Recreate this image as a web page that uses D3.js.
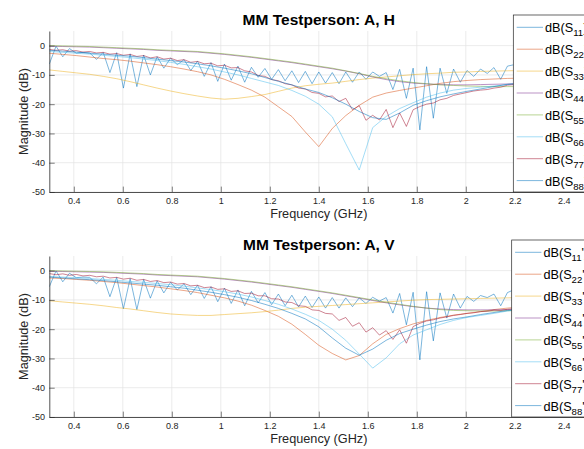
<!DOCTYPE html>
<html>
<head>
<meta charset="utf-8">
<title>MM Testperson</title>
<script src="https://d3js.org/d3.v7.min.js"></script>
<style>
    body { margin: 0; background: #fff; overflow: hidden; }
    svg { display: block; font-family: "Liberation Sans", Arial, Helvetica, sans-serif; }
</style>
</head>
<body>
<script>
// ****DATA****
// frequency sweeps (GHz): full sweep and every second point
const freqFine = [0.3, 0.3275, 0.355, 0.3825, 0.41, 0.4375, 0.465, 0.4925, 0.52, 0.5475,
    0.575, 0.6025, 0.63, 0.6575, 0.685, 0.7125, 0.74, 0.7675, 0.795, 0.8225,
    0.85, 0.8775, 0.905, 0.9325, 0.96, 0.9875, 1.015, 1.0425, 1.07, 1.0975,
    1.125, 1.1525, 1.18, 1.2075, 1.235, 1.2625, 1.29, 1.3175, 1.345, 1.3725,
    1.4, 1.4275, 1.455, 1.4825, 1.51, 1.5375, 1.565, 1.5925, 1.62, 1.6475,
    1.675, 1.7025, 1.73, 1.7575, 1.785, 1.8125, 1.84, 1.8675, 1.895, 1.9225,
    1.95, 1.9775, 2.005, 2.0325, 2.06, 2.0875, 2.115, 2.1425, 2.17, 2.1975,
    2.225, 2.2525, 2.28];
const freqCoarse = [0.3, 0.355, 0.41, 0.465, 0.52, 0.575, 0.63, 0.685, 0.74, 0.795,
    0.85, 0.905, 0.96, 1.015, 1.07, 1.125, 1.18, 1.235, 1.29, 1.345,
    1.4, 1.455, 1.51, 1.565, 1.62, 1.675, 1.73, 1.785, 1.84, 1.895,
    1.95, 2.005, 2.06, 2.115, 2.17, 2.225, 2.28];

const xTicks = [0.4, 0.6, 0.8, 1, 1.2, 1.4, 1.6, 1.8, 2, 2.2, 2.4];
const yTicks = [-50, -40, -30, -20, -10, 0];
const portNames = ['11', '22', '33', '44', '55', '66', '77', '88'];
const lineColors = ['#0072BD', '#D95319', '#EDB120', '#7E2F8E', '#77AC30', '#4DBEEE', '#A2142F', '#0072BD'];

// ---- A, H ----
const hS11 = [-6.3, -0.2, -3.8, -1.0, -2.6, -2.3, -2.5, -4.7, -2.3, -9.2,
    -2.4, -14.5, -2.8, -14.0, -3.2, -10.0, -3.8, -7.7, -4.3, -6.5,
    -4.8, -8.5, -5.3, -10.5, -5.8, -12.2, -6.3, -11.8, -7.0, -12.5,
    -7.4, -10.8, -7.8, -11.5, -8.2, -12.0, -8.6, -12.6, -8.8, -13.0,
    -9.0, -12.8, -9.2, -13.0, -9.0, -12.5, -9.0, -11.5, -9.0, -10.5,
    -9.2, -15.0, -8.1, -18.0, -7.7, -28.8, -7.2, -24.8, -7.7, -16.3,
    -8.0, -12.5, -8.5, -10.5, -8.0, -9.5, -7.5, -11.5, -7.0, -6.5,
    -7.0, -8.0, -7.5];
const hS22 = [-2.6, -3.0, -3.4, -3.9, -4.4, -4.8, -5.3, -5.9, -6.5, -7.2,
    -8.0, -8.9, -10.0, -11.5, -13.3, -15.2, -17.6, -20.9, -24.2, -29.5,
    -34.5, -28.3, -23.9, -20.4, -17.6, -16.2, -15.3, -14.5, -13.7, -12.9,
    -12.3, -11.9, -11.6, -11.4, -11.2, -11.1, -11.0];
const hS33 = [-8.3, -8.8, -9.3, -9.8, -10.5, -11.3, -12.3, -13.4, -14.5, -15.5,
    -16.4, -17.2, -17.9, -18.3, -18.0, -17.4, -16.7, -15.6, -14.5, -13.7,
    -13.2, -12.8, -12.2, -11.6, -11.1, -10.7, -10.3, -9.9, -9.6, -9.4,
    -9.1, -9.0, -8.8, -8.7, -8.6, -8.5, -8.5];
const hS44 = [-0.2, -0.3, -0.4, -0.5, -0.7, -0.9, -1.1, -1.3, -1.6, -1.8,
    -2.0, -2.2, -2.6, -3.0, -3.5, -4.0, -4.6, -5.2, -5.8, -6.5,
    -7.2, -7.9, -8.7, -9.6, -10.7, -11.6, -12.3, -12.8, -13.1, -13.3,
    -13.4, -13.4, -13.3, -13.2, -13.1, -13.0, -13.0];
const hS55 = [0.0, -0.1, -0.2, -0.3, -0.5, -0.7, -0.9, -1.1, -1.4, -1.6,
    -1.8, -2.0, -2.4, -2.8, -3.3, -3.8, -4.4, -5.0, -5.6, -6.3,
    -7.0, -7.7, -8.6, -9.5, -10.5, -11.3, -12.0, -12.6, -13.0, -13.4,
    -13.6, -13.8, -13.9, -14.0, -14.0, -14.0, -14.0];
const hS66 = [-2.0, -2.3, -2.6, -2.9, -3.3, -3.7, -4.1, -4.6, -5.1, -5.7,
    -6.4, -7.2, -8.0, -9.0, -10.0, -11.2, -12.4, -13.6, -15.3, -17.3,
    -20.0, -24.3, -33.5, -42.5, -28.0, -24.2, -21.5, -19.5, -17.6, -16.2,
    -15.2, -14.6, -14.2, -13.8, -13.3, -13.0, -12.8];
const hS77 = [-1.3, -1.6, -1.4, -1.9, -1.7, -2.2, -2.0, -2.5, -2.3, -2.9,
    -2.7, -3.3, -3.0, -3.7, -3.4, -4.2, -3.8, -4.6, -4.3, -5.1,
    -4.8, -5.7, -5.4, -6.2, -6.0, -6.9, -6.7, -7.6, -7.5, -8.6,
    -9.0, -10.2, -10.5, -11.6, -12.0, -13.0, -13.4, -14.5, -14.8, -16.0,
    -16.3, -17.5, -17.2, -19.1, -18.0, -21.9, -20.5, -25.5, -23.8, -25.4,
    -21.8, -28.0, -23.0, -27.6, -21.9, -20.8, -20.0, -19.6, -18.5, -18.0,
    -17.0, -16.5, -16.0, -15.5, -15.2, -15.0, -14.5, -14.2, -13.5, -13.3,
    -13.0, -13.0, -13.0];
const hS88 = [-1.6, -1.9, -2.2, -2.6, -2.9, -3.3, -3.6, -4.1, -4.6, -5.1,
    -5.6, -6.2, -6.9, -7.7, -8.6, -9.6, -10.9, -12.2, -13.4, -14.8,
    -16.0, -17.8, -20.0, -22.5, -24.6, -25.2, -23.0, -20.4, -18.8, -17.5,
    -16.5, -15.6, -14.8, -14.0, -13.2, -12.8, -12.6];

// ---- A, V ----
const vS11 = [-5.5, -0.1, -3.8, -0.9, -2.4, -2.2, -2.3, -4.5, -2.2, -8.9,
    -2.3, -13.0, -2.7, -13.3, -3.0, -9.4, -3.5, -7.6, -4.0, -6.6,
    -4.5, -8.2, -5.0, -9.5, -5.5, -10.6, -6.0, -11.2, -6.6, -12.0,
    -7.1, -11.0, -7.5, -11.6, -8.0, -12.0, -8.4, -12.4, -8.7, -12.6,
    -9.0, -12.8, -9.2, -12.8, -9.3, -12.3, -9.3, -11.2, -9.1, -10.4,
    -9.2, -14.5, -7.8, -18.5, -7.4, -30.5, -7.2, -24.0, -7.6, -16.2,
    -8.0, -12.8, -8.8, -10.5, -8.5, -9.2, -8.0, -12.0, -7.5, -6.5,
    -7.0, -8.0, -7.8];
const vS22 = [-2.5, -2.7, -3.0, -3.3, -3.7, -4.1, -4.6, -5.1, -5.6, -6.2,
    -6.8, -7.5, -8.4, -9.3, -10.4, -11.8, -13.6, -15.6, -18.3, -21.8,
    -25.5, -28.3, -30.5, -29.0, -25.0, -21.8, -19.8, -18.2, -17.0, -16.0,
    -15.2, -14.6, -14.0, -13.3, -12.8, -12.4, -12.2];
const vS33 = [-10.3, -10.7, -11.1, -11.5, -12.0, -12.6, -13.1, -13.7, -14.3, -14.8,
    -15.1, -15.3, -15.3, -15.0, -14.7, -14.4, -14.0, -13.5, -12.9, -12.5,
    -12.2, -11.9, -11.6, -11.3, -11.0, -10.7, -10.4, -10.1, -9.9, -9.8,
    -9.7, -9.6, -9.5, -9.4, -9.3, -9.2, -9.2];
const vS44 = [-0.2, -0.3, -0.4, -0.5, -0.6, -0.8, -1.0, -1.2, -1.5, -1.7,
    -1.9, -2.1, -2.5, -2.9, -3.4, -3.9, -4.5, -5.1, -5.7, -6.4,
    -7.1, -7.8, -8.6, -9.4, -10.2, -11.0, -11.7, -12.3, -12.8, -13.1,
    -13.3, -13.4, -13.4, -13.4, -13.3, -13.2, -13.2];
const vS55 = [0.0, -0.1, -0.2, -0.3, -0.4, -0.6, -0.8, -1.0, -1.3, -1.5,
    -1.7, -1.9, -2.3, -2.7, -3.2, -3.7, -4.3, -4.9, -5.5, -6.2,
    -6.9, -7.6, -8.4, -9.2, -10.0, -10.8, -11.5, -12.2, -12.8, -13.3,
    -13.6, -13.7, -13.8, -13.8, -13.7, -13.6, -13.6];
const vS66 = [-2.0, -2.2, -2.4, -2.7, -3.0, -3.3, -3.7, -4.0, -4.4, -4.8,
    -5.3, -5.9, -6.5, -7.2, -8.0, -9.0, -10.2, -11.5, -13.1, -14.9,
    -17.0, -20.0, -23.8, -28.5, -33.3, -29.8, -25.0, -22.0, -20.2, -18.4,
    -17.0, -16.0, -15.3, -14.6, -13.8, -13.2, -13.0];
const vS77 = [-1.0, -1.4, -1.1, -1.6, -1.3, -1.8, -1.6, -2.1, -1.9, -2.5,
    -2.3, -2.9, -2.6, -3.3, -3.0, -3.7, -3.4, -4.1, -3.9, -4.6,
    -4.4, -5.2, -5.0, -5.8, -5.6, -6.4, -6.2, -7.1, -6.9, -7.8,
    -7.7, -8.6, -8.6, -9.6, -9.7, -10.7, -10.9, -12.0, -12.2, -13.4,
    -13.6, -14.6, -14.8, -17.0, -16.0, -19.0, -17.8, -21.0, -19.5, -22.0,
    -20.5, -23.5, -20.2, -24.8, -19.1, -18.0, -17.2, -16.8, -16.2, -15.8,
    -15.3, -15.0, -14.6, -14.4, -14.0, -13.9, -13.5, -13.6, -13.2, -13.0,
    -13.0, -13.0, -13.0];
const vS88 = [-2.2, -2.5, -2.8, -3.1, -3.4, -3.8, -4.2, -4.6, -5.0, -5.5,
    -6.0, -6.7, -7.4, -8.2, -9.1, -10.2, -11.5, -12.9, -14.6, -16.5,
    -19.2, -23.0, -26.5, -28.9, -26.8, -23.8, -21.5, -20.0, -18.6, -17.4,
    -16.5, -15.8, -15.0, -14.3, -13.6, -13.2, -13.0];

// ****LAYOUT****
const width = 584;
const height = 449;
const axLeft = 49.3, axRight = 588.3;
const axTop = 31, axBottom = 192;
const panelGap = 225;

const svg = d3.select('body')
    .append('svg')
    .attr('width', width)
    .attr('height', height);

svg.append('rect')
    .attr('width', width)
    .attr('height', height)
    .attr('fill', '#fff');

const xScale = d3.scaleLinear().domain([0.3, 2.5]).range([axLeft, axRight]);
const yScale = d3.scaleLinear().domain([-50, 5]).range([axBottom, axTop]);

const line = d3.line()
    .x(d => xScale(d[0]))
    .y(d => yScale(d[1]));

function buildSeries(freqs, values) {
    return freqs.map((f, i) => [f, values[i]]);
}

const panels = [
    {
        title: 'MM Testperson: A, H',
        series: [[freqFine, hS11], [freqCoarse, hS22], [freqCoarse, hS33], [freqCoarse, hS44],
                 [freqCoarse, hS55], [freqCoarse, hS66], [freqFine, hS77], [freqCoarse, hS88]],
        legendLeft: 513.3,
        legendTail: ')'
    },
    {
        title: 'MM Testperson: A, V',
        series: [[freqFine, vS11], [freqCoarse, vS22], [freqCoarse, vS33], [freqCoarse, vS44],
                 [freqCoarse, vS55], [freqCoarse, vS66], [freqFine, vS77], [freqCoarse, vS88]],
        legendLeft: 511.7,
        legendTail: '\')'
    }
];

panels.forEach((panel, p) => {
    const g = svg.append('g')
        .attr('transform', `translate(0, ${p * panelGap})`);

    // grid
    const grid = g.append('g').attr('class', 'grid');
    grid.selectAll('.vgrid')
        .data(xTicks)
        .enter()
        .append('line')
        .attr('x1', d => xScale(d)).attr('x2', d => xScale(d))
        .attr('y1', axTop).attr('y2', axBottom)
        .attr('stroke', '#e3e3e3')
        .attr('stroke-width', 0.7);
    grid.selectAll('.hgrid')
        .data(yTicks)
        .enter()
        .append('line')
        .attr('x1', axLeft).attr('x2', axRight)
        .attr('y1', d => yScale(d)).attr('y2', d => yScale(d))
        .attr('stroke', '#e3e3e3')
        .attr('stroke-width', 0.7);

    // clip for traces
    g.append('clipPath')
        .attr('id', 'clip' + p)
        .append('rect')
        .attr('x', axLeft).attr('y', axTop)
        .attr('width', axRight - axLeft).attr('height', axBottom - axTop);

    const traces = g.append('g').attr('clip-path', `url(#clip${p})`);
    panel.series.forEach((s, i) => {
        traces.append('path')
            .attr('d', line(buildSeries(s[0], s[1])))
            .attr('fill', 'none')
            .attr('stroke', lineColors[i])
            .attr('stroke-opacity', 0.8)
            .attr('stroke-width', 0.65)
            .attr('stroke-linejoin', 'round');
    });

    // axes
    const xAxis = d3.axisBottom(xScale)
        .tickValues(xTicks)
        .tickSizeInner(-5.4)
        .tickSizeOuter(0)
        .tickPadding(5.6)
        .tickFormat(d => String(+d.toFixed(1)));
    const yAxis = d3.axisLeft(yScale)
        .tickValues(yTicks)
        .tickSizeInner(-5.4)
        .tickSizeOuter(0)
        .tickPadding(4.3)
        .tickFormat(d => String(d));

    const gx = g.append('g')
        .attr('transform', `translate(0, ${axBottom})`)
        .call(xAxis);
    const gy = g.append('g')
        .attr('transform', `translate(${axLeft}, 0)`)
        .call(yAxis);
    [gx, gy].forEach(a => {
        a.select('.domain').attr('stroke', '#262626').attr('stroke-width', 0.8);
        a.selectAll('.tick line').attr('stroke', '#262626').attr('stroke-width', 0.6);
        a.selectAll('.tick text')
            .attr('fill', '#262626')
            .style('font-size', '9px')
            .style('font-family', '"Liberation Sans", Arial, sans-serif');
    });

    // title and labels
    g.append('text')
        .attr('x', (axLeft + axRight) / 2)
        .attr('y', 25)
        .attr('text-anchor', 'middle')
        .style('font-size', '15.5px')
        .style('font-weight', 'bold')
        .attr('fill', '#000')
        .text(panel.title);

    g.append('text')
        .attr('x', (axLeft + axRight) / 2)
        .attr('y', 218)
        .attr('text-anchor', 'middle')
        .style('font-size', '12.7px')
        .attr('fill', '#262626')
        .text('Frequency (GHz)');

    g.append('text')
        .attr('transform', `translate(27.5, ${(axTop + axBottom) / 2}) rotate(-90)`)
        .attr('text-anchor', 'middle')
        .style('font-size', '12.7px')
        .attr('fill', '#262626')
        .text('Magnitude (dB)');

    // legend (runs past the right edge, as in the original figure)
    const legTop = axBottom - 177;
    const leg = g.append('g');
    leg.append('rect')
        .attr('x', panel.legendLeft)
        .attr('y', legTop)
        .attr('width', 120)
        .attr('height', 177)
        .attr('fill', '#fff')
        .attr('stroke', '#262626')
        .attr('stroke-width', 0.7);

    portNames.forEach((name, i) => {
        const ly = legTop + 12.3 + i * 21.9;
        leg.append('line')
            .attr('x1', panel.legendLeft + 3.4)
            .attr('x2', panel.legendLeft + 29.7)
            .attr('y1', ly).attr('y2', ly)
            .attr('stroke', lineColors[i])
            .attr('stroke-opacity', 0.8)
            .attr('stroke-width', 0.65);
        const t = leg.append('text')
            .attr('x', panel.legendLeft + 31.7)
            .attr('y', ly + 5)
            .style('font-size', '12.7px')
            .attr('fill', '#000');
        t.append('tspan').text('dB(S');
        t.append('tspan').attr('dy', 4).style('font-size', '9.6px').text(name);
        t.append('tspan').attr('dy', -4).text(panel.legendTail);
    });
});
</script>
</body>
</html>
